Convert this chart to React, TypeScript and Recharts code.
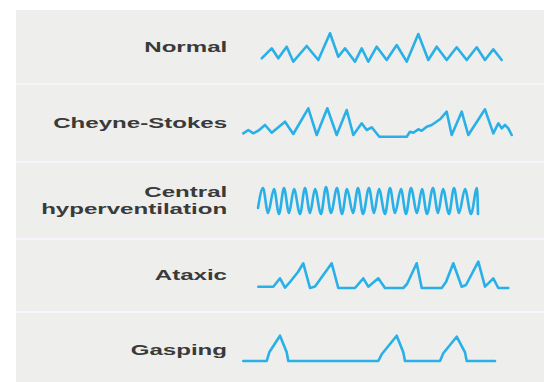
import { LineChart, Line, XAxis, YAxis } from "recharts";

// Wave shapes: t = horizontal position, v = height above the trough line
const normalWave: [number, number][] = [
  [21.7, 3.7], [31.7, 13.7], [38.3, 3.7], [46.7, 15.3], [53.3, 0.3], [66.7, 16],
  [78.3, 2], [90, 28.7], [98.3, 5.3], [105, 13.7], [115, 0.3], [121.7, 13.7],
  [128.3, 0.3], [136.7, 15.3], [146.7, 2], [156.7, 17], [166.7, 0.3], [178.3, 28],
  [188.3, 2], [196.7, 15.3], [206.7, 2], [216.7, 14.7], [226.7, 2], [236.7, 14.7],
  [245, 2], [253.3, 12.7], [261.7, 2],
];

const cheyneStokesWave: [number, number][] = [
  [3.3, 3.7], [8.3, 7], [13.3, 3.7], [18.3, 6.3], [25, 12], [31.7, 4.3], [45, 15.3],
  [53.3, 3], [68.3, 28.7], [76.7, 2], [87.3, 28.7], [96.7, 2], [106.7, 27], [113.3, 2],
  [121.7, 13.7], [126.7, 7], [131.7, 9.7], [139.3, 0.3], [166.7, 0.3], [170, 5.3],
  [173.3, 4.3], [178.3, 7.7], [181.7, 6.3], [186.7, 10.3], [191.7, 12], [200, 17.7],
  [206.7, 25.3], [211.7, 2], [221.7, 25.3], [228.3, 2], [245, 27.7], [253.3, 3.7],
  [258.3, 13.7], [261.7, 8.7], [265, 12], [268.3, 8.7], [271.7, 2],
];

const centralHyperWave: [number, number][] = [
  [18, 6], [23, 26], [28, 1], [34, 25], [39, 0], [44, 26], [49, 1], [54, 25], [60, 0],
  [65, 26], [70, 1], [75, 25], [81, 0], [86, 27], [91, 1], [97, 26], [102, 0], [107, 25],
  [113, 1], [118, 26], [123, 0], [129, 26], [134, 1], [139, 25], [145, 0], [150, 26],
  [155, 1], [161, 25], [166, 0], [171, 26], [177, 1], [182, 25], [187, 0], [193, 26],
  [198, 1], [203, 25], [209, 0], [214, 26], [219, 1], [225, 25], [231, 0], [237, 26],
  [238, 0],
];

const ataxicWave: [number, number][] = [
  [18.3, 1.3], [33.3, 1.3], [40, 9.7], [45, 0.3], [50, 6], [58, 16], [63.3, 24.7],
  [70, 0], [75, 1.5], [84, 14], [91.7, 24.7], [98.3, 0], [115, 0], [123.3, 9.7],
  [128.3, 1.3], [138.3, 9.7], [145, 0], [163.3, 0], [167, 4], [176.7, 24.7], [181.7, 0],
  [201.7, 0], [206, 6], [213.3, 24.7], [221.7, 1.3], [226, 3], [238.3, 26.3], [245, 1.3],
  [253.3, 9.7], [258.3, 0], [268.3, 0],
];

const gaspingWave: [number, number][] = [
  [3.3, 0], [26.7, 0], [29.3, 8.7], [40, 25.3], [46.7, 8.7], [48.3, 0], [138.3, 0],
  [141.7, 6.7], [156.7, 25.3], [163.3, 8.7], [165, 0], [200, 0], [203.3, 7.7],
  [216.7, 24.3], [225, 8.7], [226.7, 0], [255, 0],
];

const rowLabels: string[][] = [
  ["Normal"],
  ["Cheyne-Stokes"],
  ["Central", "hyperventilation"],
  ["Ataxic"],
  ["Gasping"],
];

const LINE_COLOR = "#29b0e8";
const CHART_W = 280;
const CHART_H = 60;

const rows = [
  { wave: normalWave, base: 62, labelY: 47, curve: "linear" },
  { wave: cheyneStokesWave, base: 137, labelY: 123, curve: "linear" },
  { wave: centralHyperWave, base: 214, labelY: 201, curve: "monotone" },
  { wave: ataxicWave, base: 288, labelY: 275, curve: "linear" },
  { wave: gaspingWave, base: 361, labelY: 350, curve: "linear" },
];

const separators = [83, 161, 238, 311];

export default function App() {
  return (
    <div
      style={{
        position: "absolute",
        left: 0,
        top: 0,
        width: 544,
        height: 382,
        background: "#ffffff",
        overflow: "hidden",
      }}
    >
      <div
        style={{
          position: "absolute",
          left: 16,
          top: 10,
          right: 0,
          bottom: 0,
          background: "#eeeeec",
        }}
      />
      {separators.map((y) => (
        <div
          key={y}
          style={{
            position: "absolute",
            left: 16,
            right: 0,
            top: y,
            height: 2,
            background: "#fbf3fb",
          }}
        />
      ))}

      {rows.map((row, i) => {
        const data = row.wave.map(([t, v]) => ({ t, v }));
        const lines = rowLabels[i];
        const lh = 17;
        return (
          <div key={i}>
            <div
              style={{
                position: "absolute",
                left: 0,
                width: 227,
                top: row.labelY - (lines.length * lh) / 2,
                textAlign: "right",
                fontFamily: "'Liberation Sans', Arial, sans-serif",
                fontWeight: "bold",
                fontSize: 14,
                lineHeight: `${lh}px`,
                color: "#3a3a3a",
              }}
            >
              {lines.map((s) => (
                <div key={s}>
                  <span
                    style={{
                      display: "inline-block",
                      transform: "scaleX(1.72)",
                      transformOrigin: "right center",
                    }}
                  >
                    {s}
                  </span>
                </div>
              ))}
            </div>
            <div
              style={{
                position: "absolute",
                left: 240,
                top: row.base - 50,
              }}
            >
              <LineChart
                width={CHART_W}
                height={CHART_H}
                data={data}
                margin={{ top: 0, right: 0, bottom: 0, left: 0 }}
              >
                <XAxis dataKey="t" type="number" domain={[0, 280]} hide />
                <YAxis type="number" domain={[-10, 50]} hide />
                <Line
                  type={row.curve as "monotone" | "linear"}
                  dataKey="v"
                  stroke={LINE_COLOR}
                  strokeWidth={2.6}
                  strokeLinejoin="round"
                  strokeLinecap="round"
                  dot={false}
                  isAnimationActive={false}
                />
              </LineChart>
            </div>
          </div>
        );
      })}
    </div>
  );
}
